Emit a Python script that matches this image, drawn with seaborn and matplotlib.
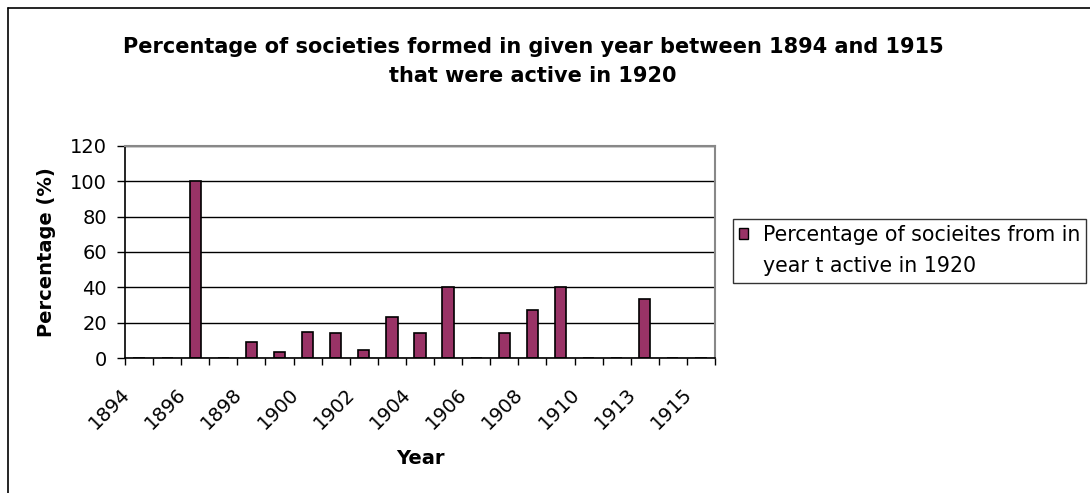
import numpy as np
import pandas as pd
import seaborn as sns
import matplotlib.pyplot as plt
from matplotlib.lines import Line2D
from matplotlib.patches import Patch
from matplotlib.transforms import ScaledTranslation

# years on the category axis (1912 has no entry in the source sheet)
years = ["1894", "1895", "1896", "1897", "1898", "1899", "1900", "1901", "1902",
         "1903", "1904", "1905", "1906", "1907", "1908", "1909", "1910", "1911",
         "1913", "1914", "1915"]
pct_active = [0, 0, 100, 0, 9.1, 3.6, 14.7, 14.3, 4.8, 23.3, 14.3, 40, 0, 14.3,
              26.9, 40, 0, 0, 33.3, 0, 0]
shown_labels = years[::2]
legend_lines = ["Percentage of socieites from in", "year t active in 1920"]

sns.set_style("white")
plt.rcParams["font.family"] = ["DejaVu Sans"]
plt.rcParams.update({"text.color": "black", "axes.labelcolor": "black",
                     "xtick.color": "black", "ytick.color": "black"})

df = pd.DataFrame({"year": years, "pct": pct_active})

fig = plt.figure(figsize=(10.9, 4.93), dpi=100)
ax = fig.add_axes([125 / 1090, 1 - 358 / 493, 590 / 1090, 212 / 493])

sns.barplot(data=df, x="year", y="pct", order=years, color="#993366",
            saturation=1, width=0.4, edgecolor="black", linewidth=1.2, ax=ax)

ax.set_xlim(-0.5, len(years) - 0.5)
ax.set_ylim(0, 120)
ax.set_yticks(range(0, 121, 20))
ax.yaxis.grid(True, color="black", linewidth=1)
ax.set_axisbelow(True)

# labels on every other category, ticks at category boundaries
ax.set_xticks(range(0, len(years), 2))
ax.set_xticklabels(shown_labels, rotation=45, ha="right", va="center",
                   rotation_mode="anchor", fontsize=14)
ax.set_xticks(np.arange(-0.5, len(years), 1), minor=True)
ax.tick_params(axis="x", which="major", length=0, pad=15)
ax.tick_params(axis="x", which="minor", length=5, width=1, color="black",
               direction="out", bottom=True)
ax.tick_params(axis="y", length=6, width=1, color="black", direction="out",
               left=True, labelsize=14, pad=7)
# nudge the slanted year labels down-left like the original
shift = ScaledTranslation(-0.12, -0.12, fig.dpi_scale_trans)
for lab in ax.get_xticklabels():
    lab.set_transform(lab.get_transform() + shift)

for side in ["left", "bottom"]:
    ax.spines[side].set_color("black")
    ax.spines[side].set_linewidth(1.2)
for side in ["top", "right"]:
    ax.spines[side].set_visible(True)
    ax.spines[side].set_color("#888888")
    ax.spines[side].set_linewidth(1.5)

ax.set_xlabel("Year", fontsize=14, fontweight="bold", labelpad=12)
ax.set_ylabel("Percentage (%)", fontsize=14, fontweight="bold", labelpad=10)

fig.text(533 / 1090, 1 - 47 / 493,
         "Percentage of societies formed in given year between 1894 and 1915",
         ha="center", va="center", fontsize=15, fontweight="bold")
fig.text(533 / 1090, 1 - 76 / 493, "that were active in 1920",
         ha="center", va="center", fontsize=15, fontweight="bold")

# legend: second line hangs under the first, with no swatch
handles = [Patch(facecolor="#993366", edgecolor="black", linewidth=1),
           Patch(facecolor="none", edgecolor="none")]
leg = fig.legend(handles, legend_lines, loc="upper left",
                 bbox_to_anchor=(733 / 1090, 1 - 219 / 493), fontsize=14.8,
                 frameon=True, fancybox=False, edgecolor="black",
                 handlelength=0.45, handleheight=0.45, handletextpad=0.7,
                 labelspacing=0.55, borderpad=0.3, borderaxespad=0)
leg.get_frame().set_linewidth(1)

# chart area border (left and top edges)
fig.add_artist(Line2D([7.5 / 1090, 7.5 / 1090], [0, 1 - 7.5 / 493],
                      transform=fig.transFigure, color="black", linewidth=1.2))
fig.add_artist(Line2D([7.5 / 1090, 1], [1 - 7.5 / 493, 1 - 7.5 / 493],
                      transform=fig.transFigure, color="black", linewidth=1.2))

fig.savefig("out.png", dpi=100)
